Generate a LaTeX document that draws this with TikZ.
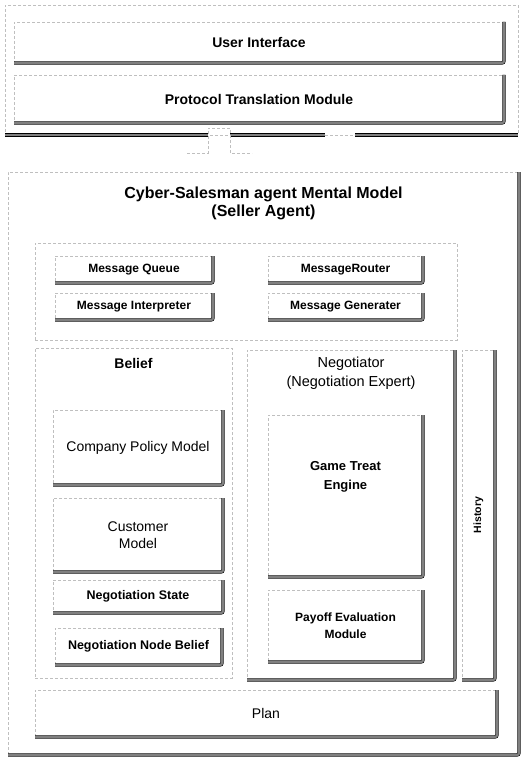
\documentclass[tikz,border=0pt]{standalone}
\usepackage{fontspec}
\setmainfont{Liberation Sans}
\usetikzlibrary{positioning}
\newcommand{\fsz}[2]{\fontsize{#1}{#2}\selectfont}
\tikzset{
    frame/.style={draw=gray!50, dash pattern=on 3pt off 2pt, line width=0.4pt},
    blk/.style={frame, rectangle, inner sep=0pt, outer sep=0pt, align=center},
    sz/.style 2 args={minimum width=#1pt, minimum height=#2pt},
    sedge/.style={draw=black, line width=0.5pt, double=black!50, double distance=2.3pt, rounded corners=2pt},
    hd/.style={font=\fsz{14}{17}\bfseries},
    sub/.style={font=\fsz{12}{15}\bfseries},
    reg/.style={font=\fsz{14}{17}}
}

\begin{document}
\begin{tikzpicture}[x=1pt, y=-1pt]
    \useasboundingbox (0,0) rectangle (522,757);
    % upper block
    \node[blk, sz={513}{130}] (top) at (261.5,70) {};
    \node[blk, sz={490}{41}, hd] (ui) at (259,42.5) {User Interface};
    \node[blk, sz={490}{48}, hd] (ptm) at (259,99) {Protocol Translation Module};
    \draw[sedge] (top.south west) -- (208,135);
    \draw[sedge] (230,135) -- (325,135);
    \draw[sedge] (355,135) -- (top.south east);
    \coordinate (tl) at (187,153);
    \coordinate (tr) at (252,153);
    \draw[frame] (tl) -- (208,153) -- (208,128) -- (230,128) -- (230,153) -- (tr);
    % mental model
    \node[blk, sz={511}{583}] (mm) at (263.5,463.5) {};
    \node[font=\fsz{16}{18}\bfseries, align=center] (title) at (263.5,203) {Cyber-Salesman agent Mental Model\\(Seller Agent)};
    \node[blk, sz={422}{97}] (msg) at (246,291.5) {};
    \node[blk, sz={158}{27}, sub] (mq) at (134,269.5) {Message Queue};
    \node[blk, sz={158}{27}, sub] (mi) at (134,306.5) {Message Interpreter};
    \node[blk, sz={155}{27}, sub] (mr) at (345.5,269.5) {MessageRouter};
    \node[blk, sz={155}{27}, sub] (mg) at (345.5,306.5) {Message Generater};
    % belief
    \node[blk, sz={197}{330}] (bel) at (133.5,513) {};
    \node[hd] (beltxt) at (133.5,363) {Belief};
    \node[blk, sz={170}{75}, reg] (cpm) at (138,447.5) {Company Policy Model};
    \node[blk, sz={170}{74}, reg] (cm) at (138,535) {Customer\\Model};
    \node[blk, sz={170}{33}, font=\fsz{12.5}{15}\bfseries] (ns) at (138,596.5) {Negotiation State};
    \node[blk, sz={167}{37}, font=\fsz{12.5}{15}\bfseries] (nnb) at (138.5,646.5) {Negotiation Node Belief};
    % negotiator
    \node[blk, sz={208}{330}] (neg) at (351,515) {};
    \node[font=\fsz{14.5}{19}, align=center] (negtxt) at (351,373) {Negotiator\\(Negotiation Expert)};
    \node[blk, sz={155}{162}] (gte) at (345.5,496) {};
    \node[font=\fsz{13}{19}\bfseries, align=center] (gtetxt) at (345.5,477) {Game Treat\\Engine};
    \node[blk, sz={155}{72}, font=\fsz{12}{17}\bfseries] (pay) at (345.5,626) {Payoff Evaluation\\Module};
    \node[blk, sz={33}{330}] (hist) at (478.5,515) {};
    \node[font=\fsz{10.5}{12}\bfseries, rotate=90] (histtxt) at (478.5,515) {History};
    \node[blk, sz={462}{47}, reg] (plan) at (266,713.5) {Plan};
    % shadow edges
    \foreach \n in {ui,ptm,mm,mq,mi,mr,mg,cpm,cm,ns,nnb,neg,gte,pay,hist,plan}
        \draw[sedge] (\n.north east) -- (\n.south east) -- (\n.south west);
\end{tikzpicture}
\end{document}
